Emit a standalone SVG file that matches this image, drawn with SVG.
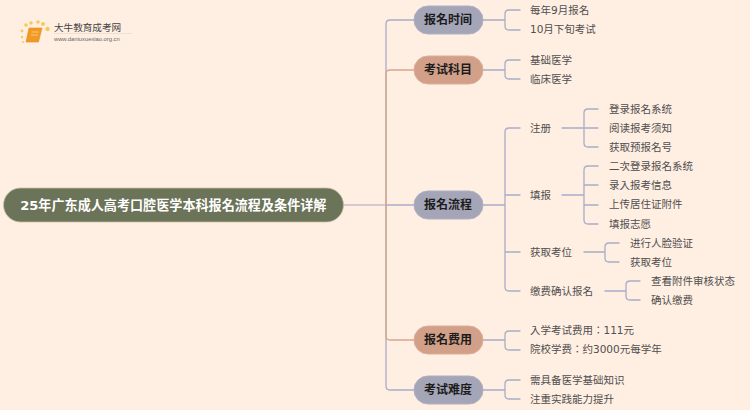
<svg xmlns="http://www.w3.org/2000/svg" width="750" height="410" viewBox="0 0 750 410">
<style>
text{font-family:"DejaVu Sans","Noto Sans CJK TC",sans-serif;font-size:10.5px;fill:#4f4f4f;dominant-baseline:central}
.c{fill:none;stroke-width:1.3;stroke-linecap:round}
.b{stroke:#a9adc6}
.o{stroke:#d8a68c}
.m{font-size:12px;font-weight:700;fill:#1c1c1c;text-anchor:middle}
.p1{fill:#a5a5b8;stroke:#b0b0c2}
.p2{fill:#d2a088;stroke:#dcae98}
</style>
<rect width="750" height="410" fill="#ffeee2"/>
<g id="logo">
<g fill="#f8c95a"><circle cx="26" cy="25" r="1.8"/><circle cx="31" cy="23" r="1.8"/><circle cx="38" cy="22" r="1.8"/><circle cx="43" cy="24" r="2"/><circle cx="47.500" cy="29" r="2.200"/><circle cx="22" cy="31" r="1.400"/><circle cx="22" cy="37" r="1.200"/><circle cx="23" cy="42" r="1"/></g>
<path d="M29 28H42L38.500 42H26Z" fill="#f09a25" stroke="#e58a1c" stroke-width="0.6"/>
<path d="M31.500 32H38.500M31 35H38" stroke="#ffd88a" stroke-width="0.8"/>
<text x="54" y="27.500" style="font-size:9.600px;fill:#444">大牛教育成考网</text>
<rect x="54" y="33" width="78" height="0.8" fill="#e9ddd3"/>
<text x="54" y="39" style="font-size:5.800px;fill:#666;font-family:'Liberation Sans',sans-serif">www.daniuxuexiao.org.cn</text>
</g>
<g id="connectors">
<path class="c" style="stroke:#c9bccb" d="M343 205H386"/>
<path class="c b" d="M386 205V24Q386 20 390 20H414M386 205V386Q386 390 390 390H414M386 205H414"/>
<path class="c o" d="M386 205V74Q386 70 390 70H414M386 205V336Q386 340 390 340H414"/>
<path class="c b" d="M483 20H505M505 20V14Q505 10 509 10H520M505 20V26Q505 30 509 30H520"/>
<path class="c b" d="M483 70H505M505 70V64Q505 60 509 60H520M505 70V75Q505 79 509 79H520"/>
<path class="c b" d="M483 205H505M505 205V132Q505 128 509 128H520M505 195H520M505 205V287Q505 291 509 291H520M505 252H520"/>
<path class="c b" d="M562 128H584M584 128V113Q584 109 588 109H598M584 128H598M584 128V143Q584 147 588 147H598"/>
<path class="c b" d="M562 195H584M584 195V170Q584 166 588 166H598M584 185H598M584 205H598M584 195V220Q584 224 588 224H598"/>
<path class="c b" d="M584 252H605M605 252V247Q605 243 609 243H619M605 252V258Q605 262 609 262H619"/>
<path class="c b" d="M605 291H626M626 291V285Q626 281 630 281H640M626 291V296Q626 300 630 300H640"/>
<path class="c b" d="M483 340H505M505 340V335Q505 331 509 331H520M505 340V346Q505 350 509 350H520"/>
<path class="c b" d="M483 390H505M505 390V384Q505 380 509 380H520M505 390V395Q505 399 509 399H520"/>
</g>
<g id="root"><rect x="3.500" y="188" width="340" height="34" rx="17" fill="#6b7358" stroke="#c5c0a0" stroke-width="0.8"/><text x="173.300" y="205" text-anchor="middle" style="font-size:13.100px;font-weight:700;fill:#fff">25年广东成人高考口腔医学本科报名流程及条件详解</text></g>
<g id="n1"><rect class="p1" x="414" y="6" width="69" height="28" rx="14"/><text class="m" x="448" y="20">报名时间</text></g>
<g id="n2"><rect class="p2" x="414" y="56" width="69" height="28" rx="14"/><text class="m" x="448" y="70">考试科目</text></g>
<g id="n3"><rect class="p1" x="414" y="191" width="69" height="28" rx="14"/><text class="m" x="448" y="205">报名流程</text></g>
<g id="n4"><rect class="p2" x="414" y="326" width="69" height="28" rx="14"/><text class="m" x="448" y="340">报名费用</text></g>
<g id="n5"><rect class="p1" x="414" y="376" width="69" height="28" rx="14"/><text class="m" x="448" y="390">考试难度</text></g>
<g id="leaves" transform="translate(0 0.400)">
<text x="530" y="10">每年9月报名</text>
<text x="530" y="29">10月下旬考试</text>
<text x="530" y="60">基础医学</text>
<text x="530" y="79">临床医学</text>
<text x="530" y="128">注册</text>
<text x="530" y="195">填报</text>
<text x="530" y="252">获取考位</text>
<text x="530" y="291">缴费确认报名</text>
<text x="609" y="109">登录报名系统</text>
<text x="609" y="128">阅读报考须知</text>
<text x="609" y="147">获取预报名号</text>
<text x="609" y="166">二次登录报名系统</text>
<text x="609" y="185">录入报考信息</text>
<text x="609" y="204">上传居住证附件</text>
<text x="609" y="224">填报志愿</text>
<text x="630" y="243">进行人脸验证</text>
<text x="630" y="262">获取考位</text>
<text x="651" y="281">查看附件审核状态</text>
<text x="651" y="300">确认缴费</text>
<text x="530" y="330">入学考试费用：111元</text>
<text x="530" y="349">院校学费：约3000元每学年</text>
<text x="530" y="380">需具备医学基础知识</text>
<text x="530" y="399">注重实践能力提升</text>
</g>
</svg>
